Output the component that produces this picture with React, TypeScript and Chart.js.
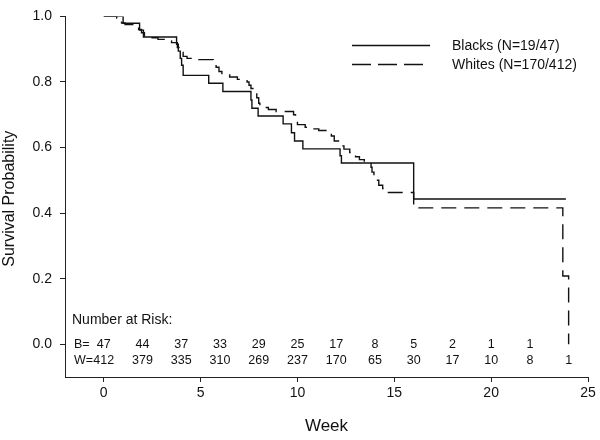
import React, { useEffect, useRef } from 'react';
import { Chart, registerables } from 'chart.js';

Chart.register(...registerables);

// Kaplan-Meier step points (week, survival probability)
const blacksWeeks = [0, 1.0, 1.85, 2.05, 3.76, 3.85, 3.95, 4.02, 4.1, 5.42, 6.15, 7.6, 7.65, 7.97, 9.26, 9.69, 9.85, 10.28, 12.2, 12.27, 16.0, 23.86];
const blacksSurv = [1.0, 0.979, 0.958, 0.937, 0.915, 0.894, 0.872, 0.851, 0.82, 0.796, 0.771, 0.745, 0.72, 0.696, 0.672, 0.645, 0.62, 0.596, 0.575, 0.553, 0.443, 0.443];

const whitesWeeks = [0, 0.67, 0.8, 0.92, 1.1, 1.5, 1.8, 1.95, 2.1, 2.3, 2.8, 3.2, 3.5, 3.8, 3.95, 4.1, 4.3, 4.9, 5.65, 5.8, 5.95, 6.1, 6.5, 6.9, 7.4, 7.5, 7.6, 7.7, 7.9, 8.0, 8.06, 8.5, 8.9, 9.8, 9.9, 10.0, 10.4, 10.8, 11.1, 11.6, 11.75, 11.9, 12.2, 12.4, 12.7, 13.0, 13.2, 13.45, 13.8, 13.85, 13.95, 14.0, 14.2, 14.4, 14.6, 16.0, 23.7, 24.0];
const whitesSurv = [1.0, 0.995, 0.99, 0.98, 0.975, 0.97, 0.96, 0.95, 0.94, 0.935, 0.93, 0.925, 0.92, 0.905, 0.89, 0.878, 0.872, 0.868, 0.855, 0.845, 0.832, 0.822, 0.815, 0.808, 0.8, 0.79, 0.78, 0.768, 0.752, 0.735, 0.722, 0.716, 0.71, 0.7, 0.685, 0.67, 0.662, 0.657, 0.652, 0.645, 0.635, 0.62, 0.605, 0.595, 0.585, 0.572, 0.563, 0.555, 0.54, 0.525, 0.51, 0.5, 0.485, 0.475, 0.463, 0.416, 0.208, 0.0];

// Number at risk table
const riskWeeks = [0, 2, 4, 6, 8, 10, 12, 14, 16, 18, 20, 22, 24];
const riskBlacks: (number | null)[] = [47, 44, 37, 33, 29, 25, 17, 8, 5, 2, 1, 1, null];
const riskWhites = [412, 379, 335, 310, 269, 237, 170, 65, 30, 17, 10, 8, 1];

const xTicks = [0, 5, 10, 15, 20, 25];
const yTicks = [0, 0.2, 0.4, 0.6, 0.8, 1.0];

const legendLabels = ['Blacks (N=19/47)', 'Whites (N=170/412)'];

const FONT = '"Liberation Sans", Arial, sans-serif';
const INK = '#111';

const overlayPlugin = {
  id: 'overlay',
  afterDraw(chart: any) {
    const ctx = chart.ctx as CanvasRenderingContext2D;
    const xs = chart.scales.x;
    const ys = chart.scales.y;
    const area = chart.chartArea;
    ctx.save();
    ctx.fillStyle = INK;
    ctx.strokeStyle = INK;

    // Y axis title
    ctx.save();
    ctx.font = `16px ${FONT}`;
    ctx.translate(10, (area.top + area.bottom) / 2 + 2);
    ctx.rotate(-Math.PI / 2);
    ctx.textAlign = 'center';
    ctx.textBaseline = 'middle';
    ctx.fillText('Survival Probability', 0, 0);
    ctx.restore();

    // X axis title
    ctx.font = `17px ${FONT}`;
    ctx.textAlign = 'center';
    ctx.textBaseline = 'middle';
    ctx.fillText('Week', (area.left + area.right) / 2, 426);

    // Legend
    ctx.lineWidth = 1.4;
    ctx.beginPath();
    ctx.moveTo(352, 45.5);
    ctx.lineTo(430, 45.5);
    ctx.stroke();
    ctx.setLineDash([19, 7]);
    ctx.beginPath();
    ctx.moveTo(352, 64.5);
    ctx.lineTo(424, 64.5);
    ctx.stroke();
    ctx.setLineDash([]);
    ctx.font = `14px ${FONT}`;
    ctx.textAlign = 'left';
    ctx.fillText(legendLabels[0], 452, 46);
    ctx.fillText(legendLabels[1], 452, 65);

    // Number at risk
    ctx.font = `14px ${FONT}`;
    ctx.textAlign = 'left';
    ctx.fillText('Number at Risk:', 72, 320);
    ctx.font = `12.5px ${FONT}`;
    const yB = ys.getPixelForValue(0);
    const yW = yB + 16;
    ctx.fillText('B=', 74, yB);
    ctx.fillText('W=', 74, yW);
    ctx.textAlign = 'center';
    riskWeeks.forEach((w, i) => {
      const px = xs.getPixelForValue(w);
      const b = riskBlacks[i];
      if (b !== null) ctx.fillText(String(b), px, yB);
      ctx.fillText(String(riskWhites[i]), px, yW);
    });
    ctx.restore();
  },
};

export default function App() {
  const ref = useRef<HTMLCanvasElement>(null);

  useEffect(() => {
    if (!ref.current) return;
    const blacks = blacksWeeks.map((w, i) => ({ x: w, y: blacksSurv[i] }));
    const whites = whitesWeeks.map((w, i) => ({ x: w, y: whitesSurv[i] }));
    const chart = new Chart(ref.current, {
      type: 'line',
      data: {
        datasets: [
          {
            label: legendLabels[0],
            data: blacks,
            borderColor: INK,
            borderWidth: 1.4,
            stepped: true,
            pointRadius: 0,
            fill: false,
          },
          {
            label: legendLabels[1],
            data: whites,
            borderColor: INK,
            borderWidth: 1.4,
            borderDash: [15, 8],
            stepped: true,
            pointRadius: 0,
            fill: false,
          },
        ],
      },
      options: {
        responsive: false,
        animation: false,
        devicePixelRatio: 1,
        layout: { padding: { top: 9, right: 12, left: 0, bottom: 0 } },
        plugins: { legend: { display: false }, tooltip: { enabled: false } },
        scales: {
          x: {
            type: 'linear',
            min: -2,
            max: 25,
            afterBuildTicks: (s: any) => {
              s.ticks = xTicks.map((v) => ({ value: v }));
            },
            afterFit: (s: any) => {
              s.height = 63;
            },
            border: { display: true, color: '#222', width: 1 },
            grid: { display: true, drawOnChartArea: false, drawTicks: true, tickLength: 5, color: '#222' },
            ticks: {
              color: INK,
              font: { family: FONT, size: 14 },
              padding: 3,
              maxRotation: 0,
              callback: (v: any) => String(v),
            },
          },
          y: {
            type: 'linear',
            min: -0.1,
            max: 1.0,
            afterBuildTicks: (s: any) => {
              s.ticks = yTicks.map((v) => ({ value: v }));
            },
            afterFit: (s: any) => {
              s.width = 65;
            },
            border: { display: true, color: '#222', width: 1 },
            grid: { display: true, drawOnChartArea: false, drawTicks: true, tickLength: 5, color: '#222' },
            ticks: {
              color: INK,
              font: { family: FONT, size: 14 },
              padding: 8,
              callback: (v: any) => Number(v).toFixed(1),
            },
          },
        },
      },
      plugins: [overlayPlugin],
    });
    return () => chart.destroy();
  }, []);

  return (
    <div style={{ position: 'absolute', left: 0, top: 0, width: 600, height: 440, background: '#fff' }}>
      <canvas ref={ref} width={600} height={440} style={{ display: 'block' }} />
    </div>
  );
}
